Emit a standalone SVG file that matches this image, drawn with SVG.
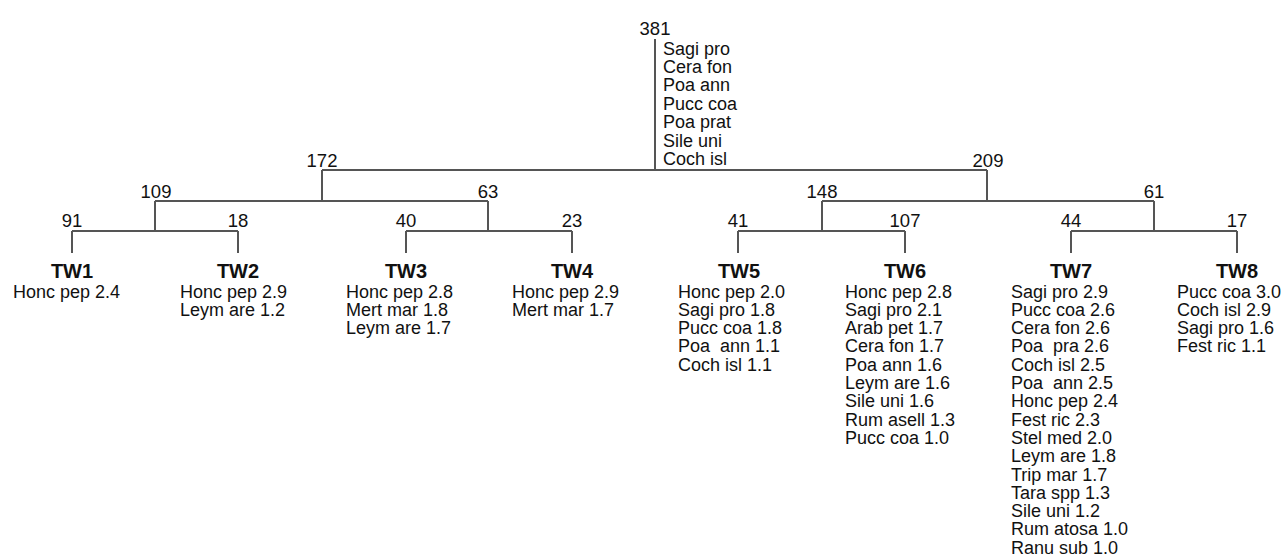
<svg xmlns="http://www.w3.org/2000/svg" width="1286" height="559" viewBox="0 0 1286 559">
<style>
text{font-family:"Liberation Sans",Arial,sans-serif;fill:#111;white-space:pre}
.n{font-size:18.5px;text-anchor:middle}
.tw{font-size:20px;font-weight:bold;text-anchor:middle}
.l{font-size:18px}
#connectors path{fill:none;stroke:#555;stroke-width:2}
</style>
<rect width="1286" height="559" fill="#fff"/>
<g id="connectors">
<path d="M655 39V170M322 170H987M322 170V201M987 170V201"/>
<path d="M155 201H488M155 201V231M488 201V231"/>
<path d="M822 201H1154M822 201V231M1154 201V231"/>
<path d="M72 231H238M72 231V253M238 231V253"/>
<path d="M406 231H572M406 231V253M572 231V253"/>
<path d="M738 231H905M738 231V253M905 231V253"/>
<path d="M1071 231H1237M1071 231V253M1237 231V253"/>
</g>
<g id="root">
<text class="n" x="655" y="35">381</text>
<text class="l" x="663" y="54.6">Sagi pro</text>
<text class="l" x="663" y="73">Cera fon</text>
<text class="l" x="663" y="91.4">Poa ann</text>
<text class="l" x="663" y="109.8">Pucc coa</text>
<text class="l" x="663" y="128.2">Poa prat</text>
<text class="l" x="663" y="146.6">Sile uni</text>
<text class="l" x="663" y="165">Coch isl</text>
</g>
<g id="n172"><text class="n" x="322" y="167">172</text></g>
<g id="n209"><text class="n" x="988" y="167">209</text></g>
<g id="n109"><text class="n" x="156" y="198">109</text></g>
<g id="n63"><text class="n" x="488" y="198">63</text></g>
<g id="n148"><text class="n" x="822" y="198">148</text></g>
<g id="n61"><text class="n" x="1154" y="198">61</text></g>
<g id="tw1">
<text class="n" x="72" y="227">91</text>
<text class="tw" x="72" y="277.7">TW1</text>
<text class="l" x="13" y="297.5">Honc pep 2.4</text>
</g>
<g id="tw2">
<text class="n" x="238" y="227">18</text>
<text class="tw" x="238" y="277.7">TW2</text>
<text class="l" x="180" y="297.5">Honc pep 2.9</text>
<text class="l" x="180" y="315.8">Leym are 1.2</text>
</g>
<g id="tw3">
<text class="n" x="406" y="227">40</text>
<text class="tw" x="406" y="277.7">TW3</text>
<text class="l" x="346" y="297.5">Honc pep 2.8</text>
<text class="l" x="346" y="315.8">Mert mar 1.8</text>
<text class="l" x="346" y="334.1">Leym are 1.7</text>
</g>
<g id="tw4">
<text class="n" x="572" y="227">23</text>
<text class="tw" x="572" y="277.7">TW4</text>
<text class="l" x="512" y="297.5">Honc pep 2.9</text>
<text class="l" x="512" y="315.8">Mert mar 1.7</text>
</g>
<g id="tw5">
<text class="n" x="738" y="227">41</text>
<text class="tw" x="739" y="277.7">TW5</text>
<text class="l" x="678" y="297.5">Honc pep 2.0</text>
<text class="l" x="678" y="315.8">Sagi pro 1.8</text>
<text class="l" x="678" y="334.1">Pucc coa 1.8</text>
<text class="l" x="678" y="352.4">Poa  ann 1.1</text>
<text class="l" x="678" y="370.7">Coch isl 1.1</text>
</g>
<g id="tw6">
<text class="n" x="905" y="227">107</text>
<text class="tw" x="905" y="277.7">TW6</text>
<text class="l" x="845" y="297.5">Honc pep 2.8</text>
<text class="l" x="845" y="315.8">Sagi pro 2.1</text>
<text class="l" x="845" y="334.1">Arab pet 1.7</text>
<text class="l" x="845" y="352.4">Cera fon 1.7</text>
<text class="l" x="845" y="370.7">Poa ann 1.6</text>
<text class="l" x="845" y="389">Leym are 1.6</text>
<text class="l" x="845" y="407.3">Sile uni 1.6</text>
<text class="l" x="845" y="425.6">Rum asell 1.3</text>
<text class="l" x="845" y="443.9">Pucc coa 1.0</text>
</g>
<g id="tw7">
<text class="n" x="1071" y="227">44</text>
<text class="tw" x="1071" y="277.7">TW7</text>
<text class="l" x="1011" y="297.5">Sagi pro 2.9</text>
<text class="l" x="1011" y="315.8">Pucc coa 2.6</text>
<text class="l" x="1011" y="334.1">Cera fon 2.6</text>
<text class="l" x="1011" y="352.4">Poa  pra 2.6</text>
<text class="l" x="1011" y="370.7">Coch isl 2.5</text>
<text class="l" x="1011" y="389">Poa  ann 2.5</text>
<text class="l" x="1011" y="407.3">Honc pep 2.4</text>
<text class="l" x="1011" y="425.6">Fest ric 2.3</text>
<text class="l" x="1011" y="443.9">Stel med 2.0</text>
<text class="l" x="1011" y="462.2">Leym are 1.8</text>
<text class="l" x="1011" y="480.5">Trip mar 1.7</text>
<text class="l" x="1011" y="498.8">Tara spp 1.3</text>
<text class="l" x="1011" y="517.1">Sile uni 1.2</text>
<text class="l" x="1011" y="535.4">Rum atosa 1.0</text>
<text class="l" x="1011" y="553.7">Ranu sub 1.0</text>
</g>
<g id="tw8">
<text class="n" x="1237" y="227">17</text>
<text class="tw" x="1237" y="277.7">TW8</text>
<text class="l" x="1177" y="297.5">Pucc coa 3.0</text>
<text class="l" x="1177" y="315.8">Coch isl 2.9</text>
<text class="l" x="1177" y="334.1">Sagi pro 1.6</text>
<text class="l" x="1177" y="352.4">Fest ric 1.1</text>
</g>
</svg>
